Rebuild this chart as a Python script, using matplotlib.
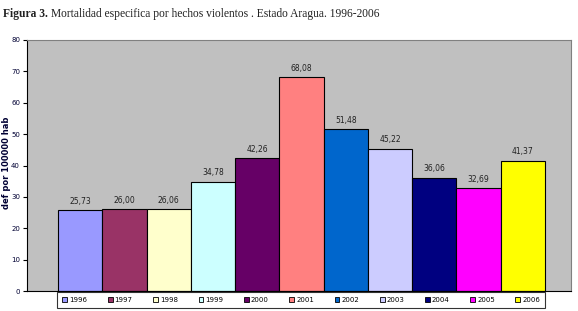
import matplotlib
matplotlib.use("Agg")
import matplotlib.pyplot as plt
from matplotlib.patches import Patch

years = ["1996", "1997", "1998", "1999", "2000", "2001", "2002", "2003", "2004", "2005", "2006"]
values = [25.73, 26.00, 26.06, 34.78, 42.26, 68.08, 51.48, 45.22, 36.06, 32.69, 41.37]
colors = ["#9999FF", "#993366", "#FFFFCC", "#CCFFFF", "#660066", "#FF8080",
          "#0066CC", "#CCCCFF", "#000080", "#FF00FF", "#FFFF00"]
yticks = [0, 10, 20, 30, 40, 50, 60, 70, 80]

fig = plt.figure(figsize=(5.78, 3.11), dpi=100)
fig.patch.set_facecolor("white")
ax = fig.add_axes([27/578, 1-291/311, (571-27)/578, (291-40)/311])
ax.set_facecolor("#C0C0C0")

x = list(range(len(years)))
bars = ax.bar(x, values, width=1.0, color=colors, edgecolor="black", linewidth=0.8)
for xi, v in zip(x, values):
    ax.text(xi, v + 1.5, f"{v:.2f}".replace(".", ","), ha="center", va="bottom",
            fontsize=5.5, color="#222222", family="DejaVu Sans")

ax.set_xlim(-1.2, 11.09)
ax.set_ylim(0, 80)
ax.set_yticks(yticks)
ax.set_yticklabels([str(t) for t in yticks], fontsize=5, color="#000033")
ax.set_xticks([])
ax.tick_params(axis="y", length=3, width=0.8, pad=2, color="black")
for s in ["top", "right"]:
    ax.spines[s].set_color("#808080")
    ax.spines[s].set_linewidth(0.8)
ax.spines["left"].set_color("black")
ax.spines["bottom"].set_color("black")
fig.text(7/578, 1-163/311, "def por 100000 hab", fontsize=6, fontweight="bold",
         color="#000033", rotation=90, ha="center", va="center")

handles = [Patch(facecolor=c, edgecolor="black", linewidth=0.6) for c in colors]
leg = fig.legend(handles, years, loc="upper left", bbox_to_anchor=(57/578, 1-292/311),
                 ncol=11, fontsize=5, frameon=True, fancybox=False, edgecolor="black",
                 handlelength=0.7, handleheight=0.7, handletextpad=0.3, columnspacing=2.95,
                 borderpad=0.75, borderaxespad=0)
leg.get_frame().set_linewidth(0.8)

fig.text(3/578, 1-14/311, "Figura 3.", fontsize=8.3, fontweight="bold",
         family="Liberation Serif", color="#222222", va="center", ha="left")
fig.text(51/578, 1-14/311, "Mortalidad especifica por hechos violentos . Estado Aragua. 1996-2006",
         fontsize=8.3, family="Liberation Serif", color="#222222", va="center", ha="left")

fig.savefig("out.png", dpi=100)
